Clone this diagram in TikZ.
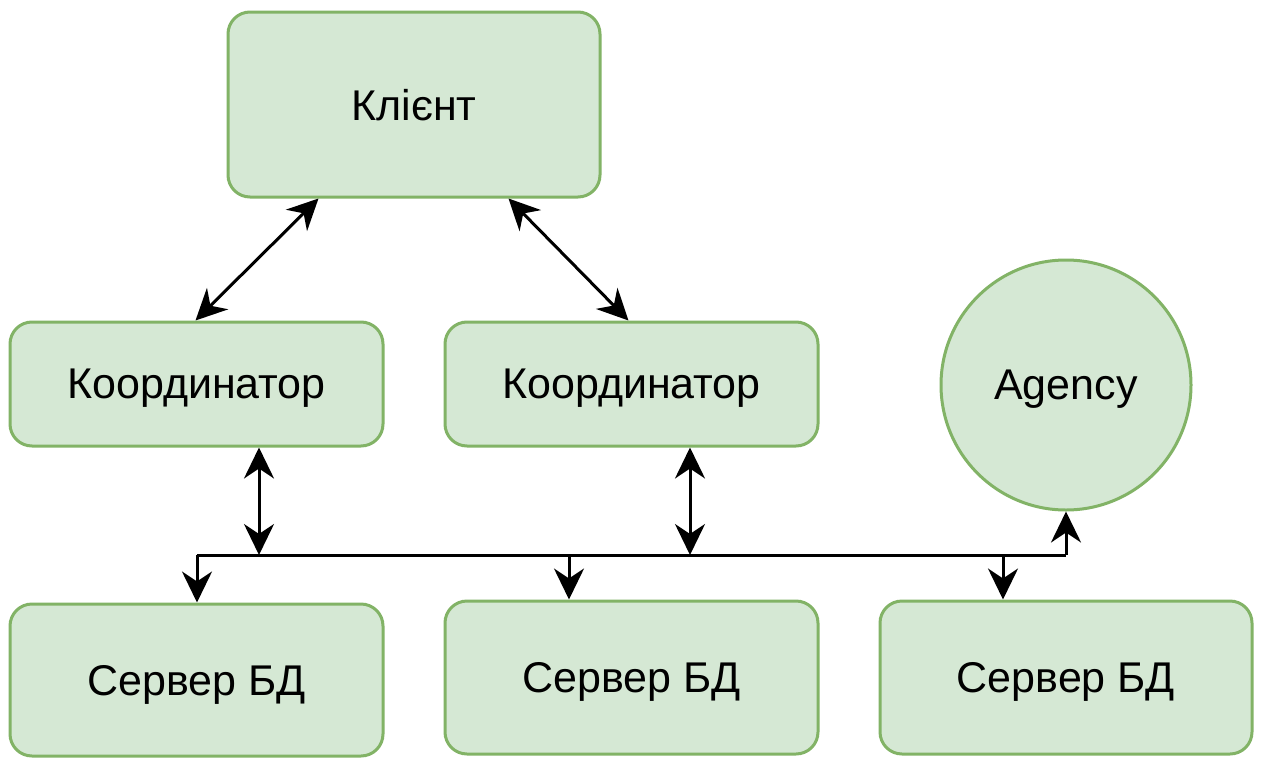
\documentclass[tikz,border=0pt]{standalone}
\usepackage{fontspec}
\setmainfont{Liberation Sans}
\usetikzlibrary{arrows.meta,calc}
\definecolor{boxfill}{HTML}{D5E8D4}
\definecolor{boxline}{HTML}{82B366}
\tikzset{
  box/.style={draw=boxline,fill=boxfill,line width=3pt,rounded corners=22pt,inner sep=0pt,text depth=0pt,font=\fontsize{43}{50}\selectfont},
  circ/.style={draw=boxline,fill=boxfill,line width=3pt,circle,inner sep=0pt,text depth=0pt,minimum size=250pt,font=\fontsize{43}{50}\selectfont},
  conn/.style={line width=3pt,black},
  tip/.style={-{Stealth[length=31pt,width=30pt,inset=10pt]}},
  tips/.style={{Stealth[length=31pt,width=30pt,inset=10pt]}-{Stealth[length=31pt,width=30pt,inset=10pt]}}
}
\begin{document}
\begin{tikzpicture}[x=1pt,y=-1pt]
\useasboundingbox[fill=white] (0,0) rectangle (1262,758);
\node[box,minimum width=372pt,minimum height=185pt] (client) at (414,104.5) {Клієнт};
\node[box,minimum width=373pt,minimum height=124pt] (c1) at (196.5,384) {Координатор};
\node[box,minimum width=373pt,minimum height=124pt] (c2) at (631.5,384) {Координатор};
\node[circ] (agency) at (1066,385) {Agency};
\node[box,minimum width=373pt,minimum height=152pt] (s1) at (196.5,680) {Сервер БД};
\node[box,minimum width=373pt,minimum height=153pt] (s2) at (631.5,677.5) {Сервер БД};
\node[box,minimum width=372pt,minimum height=153pt] (s3) at (1066,677.5) {Сервер БД};
\coordinate (j1) at (197,555);
\coordinate (j2) at (259,555);
\coordinate (j3) at (569,555);
\coordinate (j4) at (690,555);
\coordinate (j5) at (1003,555);
\coordinate (j6) at (1066,555);
\draw[conn,tips] ($(client.south west)+(92,0)$) -- ($(c1.north west)+(187,0)$);
\draw[conn,tips] ($(client.south west)+(282,0)$) -- ($(c2.north west)+(185,0)$);
\draw[conn,tips] (c1.south -| j2) -- (j2);
\draw[conn,tips] (c2.south -| j4) -- (j4);
\draw[conn] (j1) -- (j6);
\draw[conn,tip] (j6) -- (agency.south);
\draw[conn,tip] (j1) -- (s1.north -| j1);
\draw[conn,tip] (j3) -- (s2.north -| j3);
\draw[conn,tip] (j5) -- (s3.north -| j5);
\end{tikzpicture}
\end{document}
